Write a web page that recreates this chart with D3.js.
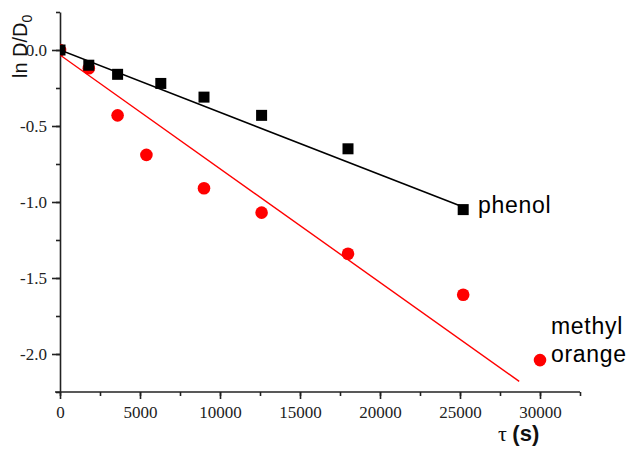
<!DOCTYPE html>
<html>
<head>
<script src="https://cdn.jsdelivr.net/npm/d3@7"></script>
<style>
body { margin: 0; background: #fff; }
.tick text { font-family: "Liberation Serif", serif; font-size: 17px; fill: #222; }
.axis path, .axis line { stroke: #222; stroke-width: 1.6; }
</style>
</head>
<body>
<script>
// measured values, ln(D/D0) against time (s)
var phenolT   = [0, 1800, 3600, 6300, 9000, 12600, 18000, 25200];
var phenolLn  = [0, -0.10, -0.16, -0.22, -0.31, -0.43, -0.65, -1.05];
var orangeT   = [0, 1800, 3600, 5400, 9000, 12600, 18000, 25200, 30000];
var orangeLn  = [0, -0.12, -0.43, -0.69, -0.91, -1.07, -1.34, -1.61, -2.04];

// linear fits: [intercept, slope, last t]
var phenolFit = [0.0, -4.1e-5, 25200];
var orangeFit = [-0.033, -7.48e-5, 28700];

var xMajor = [0, 5000, 10000, 15000, 20000, 25000, 30000];
var yMajor = [0, -0.5, -1.0, -1.5, -2.0];

var width = 628, height = 450;
var padL = 60, padT = 12, padR = 580, padB = 392;

var svg = d3.select("body").append("svg")
	.attr("width", width)
	.attr("height", height);

var x = d3.scaleLinear().domain([0, 32500]).range([padL, padR]);
var y = d3.scaleLinear().domain([0.25, -2.25]).range([padT, padB]);

svg.append("defs").append("clipPath").attr("id", "plot")
	.append("rect").attr("x", padL).attr("y", 0).attr("width", width - padL).attr("height", padB);

// minor ticks first
svg.append("g").attr("class", "axis")
	.attr("transform", "translate(0," + padB + ")")
	.call(d3.axisBottom(x).tickValues(d3.range(0, 32501, 2500)).tickSize(4).tickFormat(""))
	.select(".domain").remove();
svg.append("g").attr("class", "axis")
	.attr("transform", "translate(" + padL + ",0)")
	.call(d3.axisLeft(y).tickValues(d3.range(0.25, -2.26, -0.25)).tickSize(4).tickFormat(""))
	.select(".domain").remove();

var xAxis = svg.append("g").attr("class", "axis")
	.attr("transform", "translate(0," + padB + ")")
	.call(d3.axisBottom(x).tickValues(xMajor).tickSize(7).tickPadding(7).tickSizeOuter(0).tickFormat(d3.format("d")));
xAxis.select(".domain").attr("d", "M" + (padL - 5) + ",0H" + padR);

svg.append("g").attr("class", "axis")
	.attr("transform", "translate(" + padL + ",0)")
	.call(d3.axisLeft(y).tickValues(yMajor).tickSize(8).tickPadding(5).tickSizeOuter(0)
		.tickFormat(function(d){ return d3.format(".1f")(d).replace("−", "-"); }));

var plot = svg.append("g").attr("clip-path", "url(#plot)");

function fitLine(f, color, w) {
	plot.append("line")
		.attr("x1", x(0)).attr("y1", y(f[0]))
		.attr("x2", x(f[2])).attr("y2", y(f[0] + f[1] * f[2]))
		.attr("stroke", color).attr("stroke-width", w);
}

fitLine(orangeFit, "#ff0000", 1.4);

plot.selectAll("circle").data(orangeT).enter().append("circle")
	.attr("cx", function(d){ return x(d); })
	.attr("cy", function(d, i){ return y(orangeLn[i]); })
	.attr("r", 6.3)
	.attr("fill", "#ff0000");

fitLine(phenolFit, "#000", 1.6);

plot.selectAll("rect.sq").data(phenolT).enter().append("rect")
	.attr("class", "sq")
	.attr("x", function(d){ return x(d) - 5.5; })
	.attr("y", function(d, i){ return y(phenolLn[i]) - 5.5; })
	.attr("width", 11).attr("height", 11)
	.attr("fill", "#000");

var sans = "'Liberation Sans', Arial, sans-serif";

function label(tx, ty, s) {
	svg.append("text").attr("x", tx).attr("y", ty)
		.style("font-family", sans).style("font-size", "23px").style("letter-spacing", "0.7px")
		.text(s);
}
label(478, 213, "phenol");
label(551, 334, "methyl");
label(551, 362, "orange");

var yl = svg.append("text")
	.attr("transform", "translate(27,78) rotate(-90)")
	.style("font-family", sans).style("font-size", "20px").attr("fill", "#111");
yl.append("tspan").text("ln D/D");
yl.append("tspan").attr("dy", 5).style("font-size", "14px").text("0");

var xl = svg.append("text").attr("x", 498).attr("y", 441)
	.style("font-size", "22px").attr("fill", "#111");
xl.append("tspan").style("font-family", "'Liberation Serif', serif").text("τ ");
xl.append("tspan").style("font-family", sans).style("font-weight", "bold").text("(s)");
</script>
</body>
</html>
